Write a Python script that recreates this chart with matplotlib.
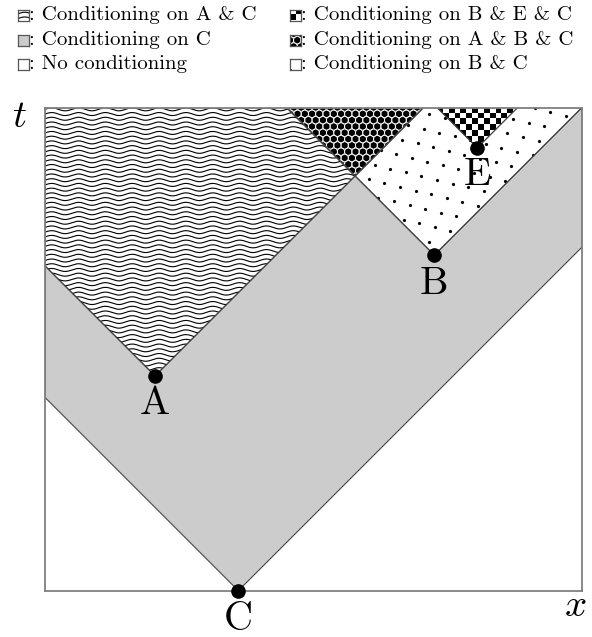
import numpy as np
import matplotlib
matplotlib.use('Agg')
import matplotlib.pyplot as plt
from matplotlib.patches import Polygon, Rectangle

plt.rcParams['font.family'] = 'cmr10'
plt.rcParams['mathtext.fontset'] = 'cm'
plt.rcParams['axes.formatter.use_mathtext'] = True

# Events in the (x, t) plane
event_names = ['C', 'A', 'B', 'E']
event_x = [3.6, 2.05, 7.25, 8.05]
event_t = [0.0, 4.0, 6.25, 8.25]

x_max = 10.0
t_max = 9.0

legend_left = ['Conditioning on A & C', 'Conditioning on C', 'No conditioning']
legend_right = ['Conditioning on B & E & C', 'Conditioning on A & B & C',
                'Conditioning on B & C']

pos = {n: (x, t) for n, x, t in zip(event_names, event_x, event_t)}

W, H = 592, 637
PX = 53.7  # pixels per data unit


def clip_poly(verts, x0, x1, y0, y1):
    # Sutherland-Hodgman against the plotting box
    def cut(pts, inside, inter):
        out = []
        for i in range(len(pts)):
            p, q = pts[i - 1], pts[i]
            if inside(q):
                if not inside(p):
                    out.append(inter(p, q))
                out.append(q)
            elif inside(p):
                out.append(inter(p, q))
        return out

    def ix(xc):
        return lambda p, q: (xc, p[1] + (q[1] - p[1]) * (xc - p[0]) / (q[0] - p[0]))

    def iy(yc):
        return lambda p, q: (p[0] + (q[0] - p[0]) * (yc - p[1]) / (q[1] - p[1]), yc)

    pts = list(verts)
    pts = cut(pts, lambda p: p[0] >= x0, ix(x0))
    pts = cut(pts, lambda p: p[0] <= x1, ix(x1))
    pts = cut(pts, lambda p: p[1] >= y0, iy(y0))
    pts = cut(pts, lambda p: p[1] <= y1, iy(y1))
    return pts


def cone(x0, t0):
    h = t_max - t0 + 2
    tri = [(x0, t0), (x0 + h, t0 + h), (x0 - h, t0 + h)]
    return clip_poly(tri, 0, x_max, 0, t_max)


def meet(p, q):
    # apex of the intersection of two future cones
    (x1, t1), (x2, t2) = sorted([p, q])
    return ((x1 + x2 + t2 - t1) / 2, (t1 + t2 + x2 - x1) / 2)


def wavy(ax, clip, x0, x1, y0, y1):
    xs = np.linspace(x0 - 0.1, x1 + 0.1, 600)
    for yy in np.arange(y0 - 0.05, y1 + 0.05, 0.088):
        ln, = ax.plot(xs, yy + 0.028 * np.sin(2 * np.pi * xs / 0.5), color='black',
                      lw=0.8, zorder=2)
        ln.set_clip_path(clip)


def hexes(ax, clip, x0, x1, y0, y1):
    d = 0.135
    pts = []
    for j, yy in enumerate(np.arange(y0 - d, y1 + d, d * 0.87)):
        for xx in np.arange(x0 - d + (j % 2) * d / 2, x1 + d, d):
            pts.append((xx, yy))
    pts = np.array(pts)
    sc = ax.scatter(pts[:, 0], pts[:, 1], s=28, facecolor='none', edgecolor='white',
                    lw=0.6, zorder=2)
    sc.set_clip_path(clip)


def checker(ax, clip, x0, x1, y0, y1):
    sq = 0.108
    nx = int((x1 - x0) / sq) + 1
    ny = int((y1 - y0) / sq) + 1
    board = (np.add.outer(np.arange(ny), np.arange(nx)) % 2).astype(float)
    im = ax.imshow(board, cmap='gray', extent=(x0, x0 + nx * sq, y0, y0 + ny * sq),
                   origin='lower', interpolation='nearest', vmin=0, vmax=1, zorder=2)
    im.set_clip_path(clip)


def dots(ax, clip, x0, x1, y0, y1):
    a = np.array([0.29, -0.07])
    b = np.array([0.11, 0.27])
    pts = []
    for i in range(-80, 80):
        for j in range(-80, 80):
            p = np.array([x0, y0]) + i * a + j * b
            if x0 - 0.3 <= p[0] <= x1 + 0.3 and y0 - 0.3 <= p[1] <= y1 + 0.3:
                pts.append(p)
    pts = np.array(pts)
    ln, = ax.plot(pts[:, 0], pts[:, 1], 'o', color='black', ms=2.3, mew=0, zorder=2)
    ln.set_clip_path(clip)


def region(ax, verts, face, pattern=None, edge='#444444'):
    patch = Polygon(verts, closed=True, facecolor=face, edgecolor=edge, lw=0.8, zorder=1)
    ax.add_patch(patch)
    if pattern is not None:
        xs = [v[0] for v in verts]
        ys = [v[1] for v in verts]
        pattern(ax, patch, min(xs), max(xs), min(ys), max(ys))
        edge_line = Polygon(verts, closed=True, facecolor='none', edgecolor=edge, lw=0.8,
                            zorder=3)
        ax.add_patch(edge_line)
    return patch


fig = plt.figure(figsize=(W / 100, H / 100), dpi=100)
ax = fig.add_axes([45 / W, (H - 590.7) / H, 537 / W, 483.2 / H])

# Step 1: nested light cones
region(ax, cone(*pos['C']), '#cccccc')
region(ax, cone(*pos['A']), 'white', wavy)
region(ax, cone(*pos['B']), 'white', dots)
region(ax, cone(*meet(pos['A'], pos['B'])), 'black', hexes)
region(ax, cone(*pos['E']), 'white', checker)

# Step 2: events and their labels
label_drop = [-21, -20, -21, -20]
ax.plot(event_x, event_t, 'o', color='black', ms=9.5, zorder=5, clip_on=False)
for n, x, t, dy in zip(event_names, event_x, event_t, label_drop):
    ax.annotate(n, (x, t), xytext=(0, dy), textcoords='offset points',
                ha='center', va='center', fontsize=29, zorder=6, annotation_clip=False)

ax.set_xlim(0, x_max)
ax.set_ylim(0, t_max)
ax.set_aspect('auto')
ax.set_xticks([])
ax.set_yticks([])
for s in ax.spines.values():
    s.set_color('#808080')
    s.set_linewidth(1.3)
    s.set_zorder(4)

fig.text(19 / W, 1 - 117 / H, r'$t$', fontsize=28, ha='center', va='center')
fig.text(575 / W, 1 - 606 / H, r'$x$', fontsize=28, ha='center', va='center')

# Step 3: legend built from small swatches
sw = 11
swatch_styles = [[('white', wavy), ('#cccccc', None), ('white', None)],
                 [('white', checker), ('black', hexes), ('white', dots)]]
col_x = [18, 290]
row_y = [15, 40, 64]
for c, labels in enumerate([legend_left, legend_right]):
    for r, lab in enumerate(labels):
        face, pattern = swatch_styles[c][r]
        sax = fig.add_axes([col_x[c] / W, (H - row_y[r] - sw / 2) / H, sw / W, sw / H])
        size = sw / PX
        rect = Rectangle((0, 0), size, size, facecolor=face, edgecolor='none')
        sax.add_patch(rect)
        if pattern is not None:
            pattern(sax, rect, 0, size, 0, size)
        sax.set_xlim(0, size)
        sax.set_ylim(0, size)
        sax.set_aspect('auto')
        sax.set_xticks([])
        sax.set_yticks([])
        for s in sax.spines.values():
            s.set_color('#555555')
            s.set_linewidth(0.9)
        fig.text((col_x[c] + sw) / W, 1 - row_y[r] / H, ': ' + lab,
                 fontsize=15, ha='left', va='center')

fig.savefig('out.png', dpi=100)
